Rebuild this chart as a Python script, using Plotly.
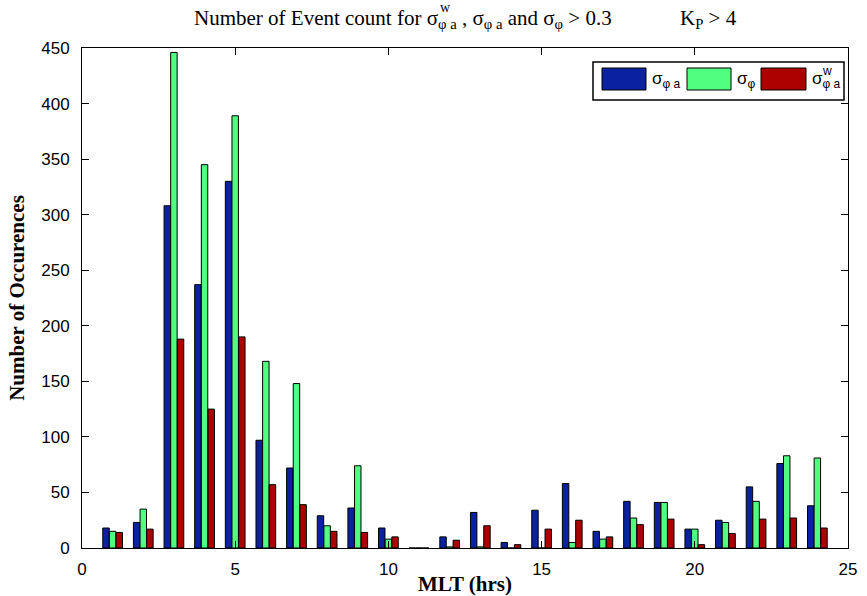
import plotly.graph_objects as go

hours = list(range(1, 25))
sigma_phi_a = [18, 23, 308, 237, 330, 97, 72, 29, 36, 18, 0, 10, 32, 5, 34, 58, 15, 42, 41, 17, 25, 55, 76, 38]
sigma_phi = [15, 35, 446, 345, 389, 168, 148, 20, 74, 8, 0, 1, 1, 0, 0, 5, 8, 27, 41, 17, 23, 42, 83, 81]
sigma_phi_a_w = [14, 17, 188, 125, 190, 57, 39, 15, 14, 10, 0, 7, 20, 3, 17, 25, 10, 21, 26, 3, 13, 26, 27, 18]

names = ["σ<sub>φ a</sub>", "σ<sub>φ</sub>", "σ<sup>w</sup><sub>φ a</sub>"]
colors = ["#0a22a0", "#50ff80", "#ad0000"]
values = [sigma_phi_a, sigma_phi, sigma_phi_a_w]

W, H = 867, 596
L, R, T, B = 82, 19, 48, 48
PW, PH = W - L - R, H - T - B


def px(x):
    return (x - L) / PW


def py(y):
    return (H - B - y) / PH


fig = go.Figure()
for name, vals, col in zip(names, values, colors):
    fig.add_trace(go.Bar(x=hours, y=vals, name=name, showlegend=False,
                         marker=dict(color=col, line=dict(color="black", width=1))))

axis_common = dict(showline=True, linecolor="black", linewidth=1, mirror="ticks", ticks="inside",
                   ticklen=7, tickcolor="black", showgrid=False, zeroline=False, automargin=False,
                   tickfont=dict(family="Liberation Sans", size=17, color="black"))

serif = dict(family="Liberation Serif", size=21, color="black")
sans = dict(family="Liberation Sans", size=17, color="black")

annotations = [
    dict(text="Number of Event count for σ<sub>φ a</sub> , σ<sub>φ a</sub> and σ<sub>φ</sub> > 0.3",
         xref="paper", yref="paper", x=px(192), y=py(19), xanchor="left", yanchor="middle",
         showarrow=False, font=serif),
    dict(text="w", xref="paper", yref="paper", x=px(438), y=py(8), xanchor="left", yanchor="middle",
         showarrow=False, font=dict(family="Liberation Serif", size=14, color="black")),
    dict(text="K<sub>P</sub> > 4", xref="paper", yref="paper", x=px(678), y=py(19), xanchor="left",
         yanchor="middle", showarrow=False, font=serif),
]

# custom legend box
shapes = [dict(type="rect", xref="paper", yref="paper", x0=px(593), x1=px(844), y0=py(100), y1=py(62),
               line=dict(color="black", width=1.5), fillcolor="white", layer="above")]
legend_items = [(602, 646, 650, "σ<sub>φ a</sub>"), (687, 731, 735, "σ<sub>φ</sub>"), (761, 806, 810, "σ<sub>φ a</sub>")]
for (x0, x1, tx, lbl), col in zip(legend_items, colors):
    shapes.append(dict(type="rect", xref="paper", yref="paper", x0=px(x0), x1=px(x1), y0=py(90), y1=py(68),
                       line=dict(color="black", width=1), fillcolor=col, layer="above"))
    annotations.append(dict(text=lbl, xref="paper", yref="paper", x=px(tx), y=py(80), xanchor="left",
                            yanchor="middle", showarrow=False, font=sans))
annotations.append(dict(text="w", xref="paper", yref="paper", x=px(820), y=py(71), xanchor="left",
                        yanchor="middle", showarrow=False, font=dict(family="Liberation Sans", size=12, color="black")))

fig.update_layout(
    width=W, height=H,
    margin=dict(l=L, r=R, t=T, b=B),
    plot_bgcolor="white", paper_bgcolor="white",
    barmode="group", bargap=0.35, bargroupgap=0.03,
    xaxis=dict(range=[0, 25], tickvals=[0, 5, 10, 15, 20, 25], ticklabelstandoff=6,
               title=dict(text="<b>MLT (hrs)</b>", font=serif, standoff=4),
               **axis_common),
    yaxis=dict(range=[0, 450], tickvals=list(range(0, 451, 50)), ticklabelstandoff=8,
               title=dict(text="<b>Number of Occurences</b>", font=serif, standoff=10),
               **axis_common),
    shapes=shapes,
    annotations=annotations,
)

fig.write_html("out.html")
